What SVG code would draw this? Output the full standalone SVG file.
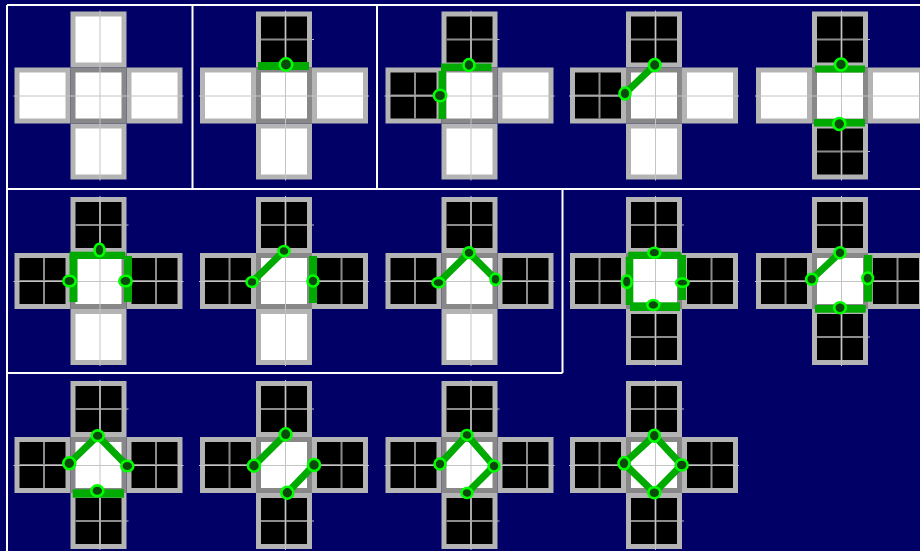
<svg xmlns="http://www.w3.org/2000/svg" xmlns:xlink="http://www.w3.org/1999/xlink" width="920" height="551" viewBox="0 0 920 551">
<style>
.bar{fill:#00aa00}
.ln{fill:none;stroke:#00aa00;stroke-width:7;stroke-linejoin:miter}
.mk{fill:#0a4a0a;stroke:#00ff00;stroke-width:2.6}
.fr{stroke:#ffffff;stroke-width:2;fill:none}
</style>
<defs>
<g id="wb"><rect width="56" height="56" fill="#b4b4b4"/><rect x="5" y="5" width="46" height="46" fill="#ffffff"/></g>
<g id="bb"><rect width="56" height="56" fill="#b4b4b4"/><rect x="5" y="5" width="46" height="46" fill="#000000"/><path d="M29.5 5V51M5 28H51" stroke="#8c8c8c" stroke-width="2"/></g>
<g id="bbx"><use xlink:href="#bb"/><path d="M51 28H58" stroke="#b8b8b8" stroke-width="1"/></g>
<g id="cb"><rect width="56" height="56" fill="#888888"/><rect x="5" y="5" width="46" height="46" fill="#ffffff"/></g>
<path id="xl" d="M1.5 -85V85M-85 0.5H85" stroke="#c4c4c4" stroke-width="1" fill="none"/>
</defs>
<rect width="920" height="551" fill="#000066"/>
<g id="frame">
<path class="fr" d="M7 5H920M7 5V551M192.5 5V189M377 5V189M7 189H920M562.5 189V373M7 373H562.5"/>
</g>
<g id="nodes">
<g id="r1c1" transform="translate(98.5,95.5)">
<use xlink:href="#wb" x="-28" y="-84"/><use xlink:href="#wb" x="-84" y="-28"/><use xlink:href="#wb" x="28" y="-28"/><use xlink:href="#wb" x="-28" y="28"/><use xlink:href="#cb" x="-28" y="-28"/><use xlink:href="#xl"/>
</g>
<g id="r1c2" transform="translate(284,95.5)">
<use xlink:href="#bbx" x="-28" y="-84"/><use xlink:href="#wb" x="-84" y="-28"/><use xlink:href="#wb" x="28" y="-28"/><use xlink:href="#wb" x="-28" y="28"/><use xlink:href="#cb" x="-28" y="-28"/><use xlink:href="#xl"/>
<rect class="bar" x="-26" y="-33.5" width="51" height="8"/>
</g>
<g id="r1c3" transform="translate(469.5,95.5)">
<use xlink:href="#bbx" x="-28" y="-84"/><use xlink:href="#bb" x="-84" y="-28"/><use xlink:href="#wb" x="28" y="-28"/><use xlink:href="#wb" x="-28" y="28"/><use xlink:href="#cb" x="-28" y="-28"/><use xlink:href="#xl"/>
<rect class="bar" x="-28.5" y="-32" width="50.5" height="7.5"/><rect class="bar" x="-31" y="-24.5" width="7.5" height="48"/>
</g>
<g id="r1c4" transform="translate(654,95.5)">
<use xlink:href="#bb" x="-28" y="-84"/><use xlink:href="#bb" x="-84" y="-28"/><use xlink:href="#wb" x="28" y="-28"/><use xlink:href="#wb" x="-28" y="28"/><use xlink:href="#cb" x="-28" y="-28"/><use xlink:href="#xl"/>
</g>
<g id="r1c5" transform="translate(840,95.5)">
<use xlink:href="#bbx" x="-28" y="-84"/><use xlink:href="#wb" x="-84" y="-28"/><use xlink:href="#wb" x="28" y="-28"/><use xlink:href="#bbx" x="-28" y="28"/><use xlink:href="#cb" x="-28" y="-28"/><use xlink:href="#xl"/>
<rect class="bar" x="-25" y="-30" width="50" height="7"/><rect class="bar" x="-26" y="23.5" width="51" height="7.5"/>
</g>
<g id="r2c1" transform="translate(98.5,281)">
<use xlink:href="#bbx" x="-28" y="-84"/><use xlink:href="#bb" x="-84" y="-28"/><use xlink:href="#bb" x="28" y="-28"/><use xlink:href="#wb" x="-28" y="28"/><use xlink:href="#cb" x="-28" y="-28"/><use xlink:href="#xl"/>
<rect class="bar" x="-29" y="-29.3" width="55.5" height="7.3"/><rect class="bar" x="-29" y="-25" width="8" height="46"/><rect class="bar" x="25.5" y="-25" width="8" height="46"/>
</g>
<g id="r2c2" transform="translate(284,281)">
<use xlink:href="#bbx" x="-28" y="-84"/><use xlink:href="#bb" x="-84" y="-28"/><use xlink:href="#bb" x="28" y="-28"/><use xlink:href="#wb" x="-28" y="28"/><use xlink:href="#cb" x="-28" y="-28"/><use xlink:href="#xl"/>
<rect class="bar" x="25" y="-25" width="8" height="47"/>
</g>
<g id="r2c3" transform="translate(469.5,281)">
<use xlink:href="#bb" x="-28" y="-84"/><use xlink:href="#bb" x="-84" y="-28"/><use xlink:href="#bb" x="28" y="-28"/><use xlink:href="#wb" x="-28" y="28"/><use xlink:href="#cb" x="-28" y="-28"/><use xlink:href="#xl"/>
</g>
<g id="r2c4" transform="translate(654,281)">
<use xlink:href="#bbx" x="-28" y="-84"/><use xlink:href="#bb" x="-84" y="-28"/><use xlink:href="#bb" x="28" y="-28"/><use xlink:href="#bb" x="-28" y="28"/><use xlink:href="#cb" x="-28" y="-28"/><use xlink:href="#xl"/>
<rect class="bar" x="-25.7" y="-29.3" width="52.4" height="7.3"/><rect class="bar" x="-28.3" y="-24.3" width="7.6" height="48.3"/><rect class="bar" x="24.3" y="-26" width="7.7" height="45"/><rect class="bar" x="-24" y="21.3" width="50" height="8.7"/>
</g>
<g id="r2c5" transform="translate(840,281)">
<use xlink:href="#bb" x="-28" y="-84"/><use xlink:href="#bb" x="-84" y="-28"/><use xlink:href="#bb" x="28" y="-28"/><use xlink:href="#bbx" x="-28" y="28"/><use xlink:href="#cb" x="-28" y="-28"/><use xlink:href="#xl"/>
<rect class="bar" x="24" y="-26" width="8.3" height="46.7"/><rect class="bar" x="-25" y="24" width="50.7" height="7.7"/>
</g>
<g id="r3c1" transform="translate(98.5,465)">
<use xlink:href="#bbx" x="-28" y="-84"/><use xlink:href="#bb" x="-84" y="-28"/><use xlink:href="#bb" x="28" y="-28"/><use xlink:href="#bbx" x="-28" y="28"/><use xlink:href="#cb" x="-28" y="-28"/><use xlink:href="#xl"/>
<rect class="bar" x="-25.8" y="24.3" width="51.3" height="8.4"/>
</g>
<g id="r3c2" transform="translate(284,465)">
<use xlink:href="#bbx" x="-28" y="-84"/><use xlink:href="#bb" x="-84" y="-28"/><use xlink:href="#bb" x="28" y="-28"/><use xlink:href="#bbx" x="-28" y="28"/><use xlink:href="#cb" x="-28" y="-28"/><use xlink:href="#xl"/>
</g>
<g id="r3c3" transform="translate(469.5,465)">
<use xlink:href="#bbx" x="-28" y="-84"/><use xlink:href="#bb" x="-84" y="-28"/><use xlink:href="#bb" x="28" y="-28"/><use xlink:href="#bbx" x="-28" y="28"/><use xlink:href="#cb" x="-28" y="-28"/><use xlink:href="#xl"/>
</g>
<g id="r3c4" transform="translate(654,465)">
<use xlink:href="#bbx" x="-28" y="-84"/><use xlink:href="#bb" x="-84" y="-28"/><use xlink:href="#bb" x="28" y="-28"/><use xlink:href="#bbx" x="-28" y="28"/><use xlink:href="#cb" x="-28" y="-28"/><use xlink:href="#xl"/>
</g>
</g>
<g id="connectors">
<polyline class="ln" transform="translate(654,95.5)" points="-29,-2 0.7,-30.5"/>
<polyline class="ln" transform="translate(284,281)" points="-32,1 0,-30"/>
<polyline class="ln" transform="translate(469.5,281)" points="-31,1.7 -0.5,-28.3 26,-1.7"/>
<polyline class="ln" transform="translate(840,281)" points="-28.3,-1.7 0,-28.3"/>
<polyline class="ln" transform="translate(98.5,465)" points="-29.2,-1.7 -0.8,-29.3 28.8,1"/>
<polyline class="ln" transform="translate(284,465)" points="-30,0.7 1.7,-30.7"/>
<polyline class="ln" transform="translate(284,465)" points="30,0 3.3,27.7"/>
<polyline class="ln" transform="translate(469.5,465)" points="-29.5,-1 -2.5,-30 24.5,1 -2.5,28"/>
<polygon class="ln" transform="translate(654,465)" points="-30,-1.7 0.3,-29.3 27.7,0 0.3,27.7"/>
</g>
<g id="markers">
<g transform="translate(284,95.5)"><ellipse class="mk" cx="2" cy="-31" rx="6.2" ry="6.2"/></g>
<g transform="translate(469.5,95.5)"><ellipse class="mk" cx="-0.5" cy="-30.5" rx="5.5" ry="6"/><ellipse class="mk" cx="-29.5" cy="0" rx="6.2" ry="5.8"/></g>
<g transform="translate(654,95.5)"><ellipse class="mk" cx="-29" cy="-2" rx="5.5" ry="6"/><ellipse class="mk" cx="0.7" cy="-30.5" rx="5.8" ry="6"/></g>
<g transform="translate(840,95.5)"><ellipse class="mk" cx="1" cy="-31" rx="6" ry="6"/><ellipse class="mk" cx="-0.7" cy="28.5" rx="6" ry="6"/></g>
<g transform="translate(98.5,281)"><ellipse class="mk" cx="1" cy="-31" rx="5" ry="6.3"/><ellipse class="mk" cx="-29" cy="0" rx="6.2" ry="5.3"/><ellipse class="mk" cx="27" cy="0" rx="6.2" ry="5.3"/></g>
<g transform="translate(284,281)"><ellipse class="mk" cx="-32" cy="1" rx="5.5" ry="5"/><ellipse class="mk" cx="0" cy="-30" rx="5.5" ry="5"/><ellipse class="mk" cx="29" cy="0" rx="5.5" ry="5.5"/></g>
<g transform="translate(469.5,281)"><ellipse class="mk" cx="-31" cy="1.7" rx="6" ry="4.8"/><ellipse class="mk" cx="-0.5" cy="-28.3" rx="5.6" ry="5.3"/><ellipse class="mk" cx="26" cy="-1.7" rx="5" ry="5.6"/></g>
<g transform="translate(654,281)"><ellipse class="mk" cx="0.3" cy="-28.3" rx="5.9" ry="4.9"/><ellipse class="mk" cx="-27.3" cy="0.7" rx="4.9" ry="6.2"/><ellipse class="mk" cx="28.3" cy="1.7" rx="6.2" ry="4.2"/><ellipse class="mk" cx="-0.7" cy="24" rx="6" ry="5"/></g>
<g transform="translate(840,281)"><ellipse class="mk" cx="0" cy="-28.3" rx="5.5" ry="5.5"/><ellipse class="mk" cx="-28.3" cy="-1.7" rx="5.5" ry="5.5"/><ellipse class="mk" cx="27.7" cy="-2.7" rx="5.3" ry="5.8"/><ellipse class="mk" cx="0" cy="26.7" rx="5.8" ry="5.5"/></g>
<g transform="translate(98.5,465)"><ellipse class="mk" cx="-0.8" cy="-29.3" rx="6" ry="5.3"/><ellipse class="mk" cx="-29.2" cy="-1.7" rx="6" ry="6"/><ellipse class="mk" cx="28.8" cy="1" rx="6" ry="5.3"/><ellipse class="mk" cx="-1.2" cy="25.7" rx="6" ry="5.3"/></g>
<g transform="translate(284,465)"><ellipse class="mk" cx="1.7" cy="-30.7" rx="5.8" ry="6"/><ellipse class="mk" cx="-30" cy="0.7" rx="6" ry="6"/><ellipse class="mk" cx="30" cy="0" rx="6" ry="6"/><ellipse class="mk" cx="3.3" cy="27.7" rx="6" ry="6"/></g>
<g transform="translate(469.5,465)"><ellipse class="mk" cx="-29.5" cy="-1" rx="5.5" ry="5.5"/><ellipse class="mk" cx="-2.5" cy="-30" rx="5.5" ry="5"/><ellipse class="mk" cx="24.5" cy="1" rx="5.5" ry="5.5"/><ellipse class="mk" cx="-2.5" cy="28" rx="5.5" ry="5"/></g>
<g transform="translate(654,465)"><ellipse class="mk" cx="0.3" cy="-29.3" rx="5.5" ry="6"/><ellipse class="mk" cx="-30" cy="-1.7" rx="5.5" ry="6"/><ellipse class="mk" cx="27.7" cy="0" rx="6" ry="5.5"/><ellipse class="mk" cx="0.3" cy="27.7" rx="6" ry="5.5"/></g>
</g>
</svg>
